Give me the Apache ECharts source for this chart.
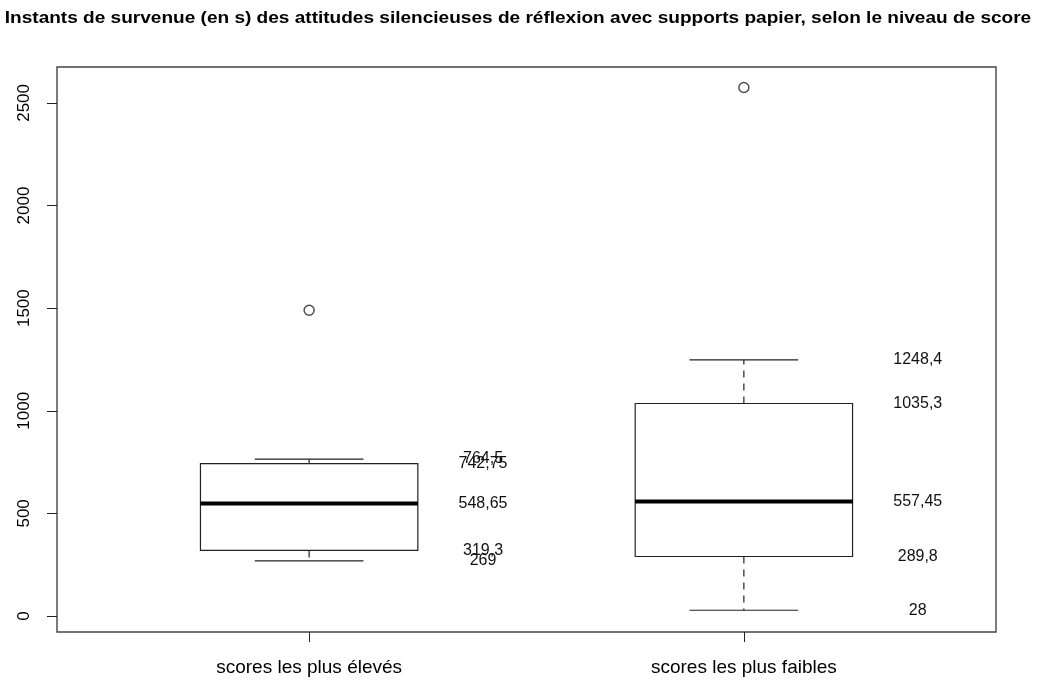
<!DOCTYPE html>
<html>
<head>
<meta charset="utf-8">
<script src="https://cdn.jsdelivr.net/npm/echarts@6/dist/echarts.min.js"></script>
<style>
  html, body { margin: 0; padding: 0; background: #fff; }
  #main { width: 1037px; height: 684px; }
</style>
</head>
<body>
<div id="main"></div>
<script>
const categories = ['scores les plus élevés', 'scores les plus faibles'];
const lowWhisker = [269, 28];
const q1 = [319.3, 289.8];
const median = [548.65, 557.45];
const q3 = [742.75, 1035.3];
const highWhisker = [764.5, 1248.4];
const outliers = [[1, 1490], [2, 2575]];
const yTicks = [0, 500, 1000, 1500, 2000, 2500];
const titleText = 'Instants de survenue (en s) des attitudes silencieuses de réflexion avec supports papier, selon le niveau de score';

const font = '"Liberation Sans", Arial, sans-serif';
const boxData = categories.map((c, i) => [i + 1, lowWhisker[i], q1[i], median[i], q3[i], highWhisker[i]]);
const fmt = v => String(v).replace('.', ',');

let chart = echarts.init(document.getElementById('main'));

function renderBox(params, api) {
  const x = api.value(0);
  const lo = api.value(1), a = api.value(2), m = api.value(3), b = api.value(4), hi = api.value(5);
  const L = api.coord([x - 0.25, b]), R = api.coord([x + 0.25, a]);
  const capL = api.coord([x - 0.125, lo])[0], capR = api.coord([x + 0.125, lo])[0];
  const cx = api.coord([x, lo])[0];
  const yLo = api.coord([x, lo])[1], yHi = api.coord([x, hi])[1];
  const yA = api.coord([x, a])[1], yB = api.coord([x, b])[1], yM = api.coord([x, m])[1];
  const line = (x1, y1, x2, y2, st) => ({ type: 'line', shape: { x1, y1, x2, y2 }, style: Object.assign({ stroke: '#222', lineWidth: 1.2 }, st) });
  const children = [
    line(cx, yB, cx, yHi, { lineDash: [7, 6] }),
    line(cx, yA, cx, yLo, { lineDash: [7, 6] }),
    line(capL, yHi, capR, yHi, {}),
    line(capL, yLo, capR, yLo, {}),
    { type: 'rect', shape: { x: L[0], y: yB, width: R[0] - L[0], height: yA - yB }, style: { fill: '#fff', stroke: '#222', lineWidth: 1.2 } },
    line(L[0], yM, R[0], yM, { lineWidth: 4, stroke: '#000' })
  ];
  // valeurs écrites à droite de chaque boîte
  [lo, a, m, b, hi].forEach(v => {
    const p = api.coord([x + 0.4, v]);
    children.push({ type: 'text', x: p[0], y: p[1], style: { text: fmt(v), fill: '#111', font: '16px ' + font, align: 'center', verticalAlign: 'middle' } });
  });
  return { type: 'group', children };
}

chart.setOption({
  backgroundColor: '#fff',
  animation: false,
  graphic: [{
    type: 'text', x: 518, y: 19, scaleX: 1.19, originX: 0, silent: true,
    style: { text: titleText, font: 'bold 16px ' + font, fill: '#000', align: 'center', verticalAlign: 'middle' }
  }],
  grid: { left: 57, right: 41, top: 67, bottom: 52, show: true, borderColor: '#444', borderWidth: 1.4, backgroundColor: 'transparent' },
  xAxis: {
    type: 'value', min: 0.42, max: 2.58,
    splitLine: { show: false },
    axisLine: { show: false, onZero: false },
    axisTick: { show: true, length: 10, customValues: [1, 2], lineStyle: { color: '#222' } },
    axisLabel: { customValues: [1, 2], formatter: v => categories[Math.round(v) - 1], fontFamily: font, fontSize: 19, color: '#000', margin: 26 }
  },
  yAxis: {
    type: 'value', min: -78, max: 2675,
    splitLine: { show: false },
    axisLine: { show: false, onZero: false },
    axisTick: { show: true, length: 10, customValues: yTicks, lineStyle: { color: '#222' } },
    axisLabel: { customValues: yTicks, formatter: v => String(v), rotate: 90, fontFamily: font, fontSize: 17, color: '#000', margin: 24 }
  },
  series: [
    { type: 'custom', renderItem: renderBox, data: boxData, silent: true },
    { type: 'scatter', data: outliers, symbol: 'circle', symbolSize: 10, itemStyle: { color: '#fff', borderColor: '#222', borderWidth: 1.5 }, silent: true }
  ]
});
</script>
</body>
</html>
